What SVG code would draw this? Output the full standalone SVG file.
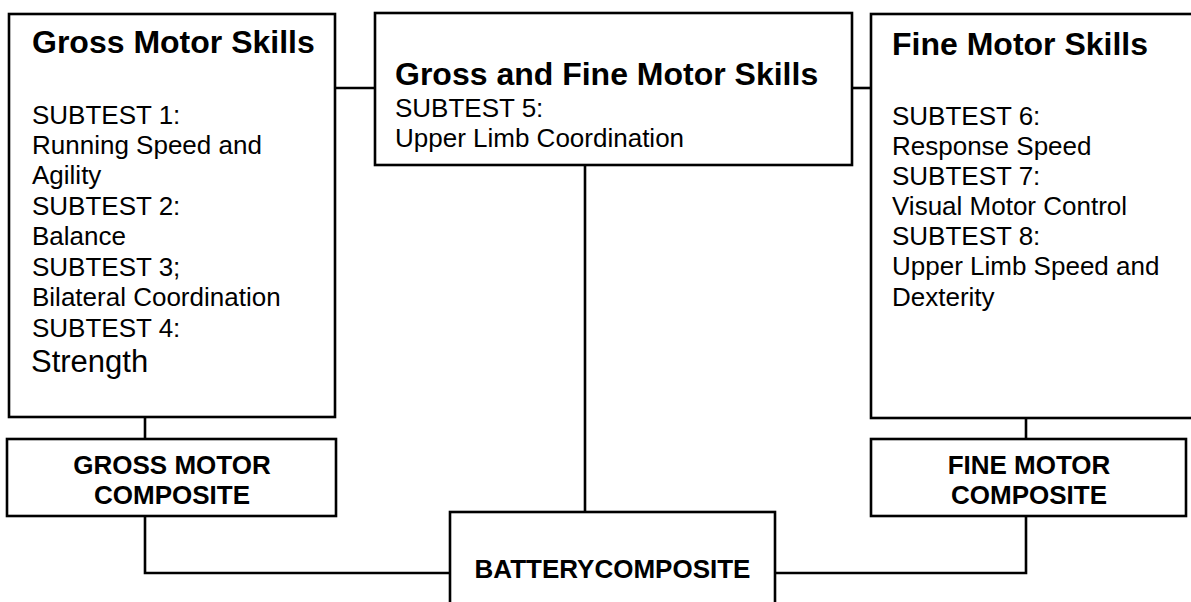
<svg xmlns="http://www.w3.org/2000/svg" width="1191" height="602" viewBox="0 0 1191 602">
  <style>
    .box { fill: #ffffff; stroke: #000000; stroke-width: 2.6; }
    .conn { fill: none; stroke: #000000; stroke-width: 2.6; }
    .h { font-family: "Liberation Sans", Arial, Helvetica, sans-serif; font-weight: bold; font-size: 32px; fill: #000000; }
    .t { font-family: "Liberation Sans", Arial, Helvetica, sans-serif; font-size: 26px; fill: #000000; }
    .c { font-family: "Liberation Sans", Arial, Helvetica, sans-serif; font-weight: bold; font-size: 26px; fill: #000000; text-anchor: middle; }
  </style>
  <rect width="1191" height="602" fill="#ffffff"/>
  <g id="connectors">
    <line class="conn" x1="335" y1="88" x2="375" y2="88"/>
    <line class="conn" x1="852" y1="88" x2="871" y2="88"/>
    <line class="conn" x1="585" y1="165" x2="585" y2="512"/>
    <line class="conn" x1="145" y1="417" x2="145" y2="439"/>
    <line class="conn" x1="1026" y1="418" x2="1026" y2="439"/>
    <polyline class="conn" points="145,516 145,573 450,573"/>
    <polyline class="conn" points="1026,516 1026,573 775,573"/>
  </g>
  <g id="gross-motor-skills">
    <rect class="box" x="9" y="14" width="326" height="403"/>
    <text class="h" x="32" y="53">Gross Motor Skills</text>
    <text class="t" x="32" y="124">SUBTEST 1:</text>
    <text class="t" x="32" y="154">Running Speed and</text>
    <text class="t" x="32" y="184">Agility</text>
    <text class="t" x="32" y="215">SUBTEST 2:</text>
    <text class="t" x="32" y="245">Balance</text>
    <text class="t" x="32" y="276">SUBTEST 3;</text>
    <text class="t" x="32" y="306">Bilateral Coordination</text>
    <text class="t" x="32" y="337">SUBTEST 4:</text>
    <text class="t" x="31" y="372" style="font-size:31px">Strength</text>
  </g>
  <g id="gross-and-fine-motor-skills">
    <rect class="box" x="375" y="13" width="477" height="152"/>
    <text class="h" x="395" y="85">Gross and Fine Motor Skills</text>
    <text class="t" x="395" y="117">SUBTEST 5:</text>
    <text class="t" x="395" y="147">Upper Limb Coordination</text>
  </g>
  <g id="fine-motor-skills">
    <rect class="box" x="871" y="14" width="330" height="404"/>
    <text class="h" x="892" y="55">Fine Motor Skills</text>
    <text class="t" x="892" y="125">SUBTEST 6:</text>
    <text class="t" x="892" y="155">Response Speed</text>
    <text class="t" x="892" y="185">SUBTEST 7:</text>
    <text class="t" x="892" y="215">Visual Motor Control</text>
    <text class="t" x="892" y="245">SUBTEST 8:</text>
    <text class="t" x="892" y="275">Upper Limb Speed and</text>
    <text class="t" x="892" y="306">Dexterity</text>
  </g>
  <g id="gross-motor-composite">
    <rect class="box" x="7" y="439" width="329" height="77"/>
    <text class="c" x="172" y="474">GROSS MOTOR</text>
    <text class="c" x="172" y="504">COMPOSITE</text>
  </g>
  <g id="fine-motor-composite">
    <rect class="box" x="871" y="439" width="315" height="77"/>
    <text class="c" x="1029" y="474">FINE MOTOR</text>
    <text class="c" x="1029" y="504">COMPOSITE</text>
  </g>
  <g id="battery-composite">
    <rect class="box" x="450" y="512" width="325" height="100"/>
    <text class="c" x="612.5" y="578">BATTERYCOMPOSITE</text>
  </g>
</svg>
